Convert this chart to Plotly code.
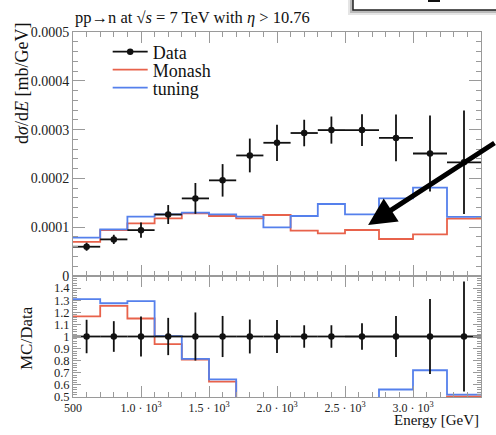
import numpy as np
import plotly.graph_objects as go

# Bin edges of the neutron energy spectrum [GeV]
bin_edges = [500, 700, 900, 1100, 1300, 1500, 1700, 1900, 2100, 2300,
             2500, 2750, 3000, 3250, 3500]

# Measured cross section dsigma/dE [mb/GeV] and its uncertainty
data_xsec = [6.0e-5, 7.5e-5, 9.4e-5, 1.26e-4, 1.59e-4, 1.96e-4, 2.47e-4,
             2.73e-4, 2.93e-4, 2.99e-4, 2.99e-4, 2.83e-4, 2.51e-4, 2.33e-4]
data_err = [0.83e-5, 0.95e-5, 1.56e-5, 1.94e-5, 3.16e-5, 3.33e-5, 3.46e-5,
            3.71e-5, 2.72e-5, 2.78e-5, 3.26e-5, 4.8e-5, 7.8e-5, 1.06e-4]

# Generator predictions
monash = [7.0e-5, 9.4e-5, 1.08e-4, 1.18e-4, 1.285e-4, 1.23e-4, 1.18e-4,
          1.25e-4, 9.3e-5, 8.75e-5, 9.43e-5, 7.58e-5, 8.54e-5, 1.175e-4]
tuning = [7.85e-5, 9.56e-5, 1.215e-4, 1.264e-4, 1.297e-4, 1.264e-4, 1.215e-4,
          9.96e-5, 1.23e-4, 1.475e-4, 1.264e-4, 1.59e-4, 1.81e-4, 1.21e-4]

# Axis tick labels
x_tick_vals = [500, 1000, 1500, 2000, 2500, 3000, 3500]
x_tick_text = ["500", "1.0 · 10<sup>3</sup>", "1.5 · 10<sup>3</sup>",
               "2.0 · 10<sup>3</sup>", "2.5 · 10<sup>3</sup>",
               "3.0 · 10<sup>3</sup>", "3.5 · 10<sup>3</sup>"]
y_tick_vals = [0, 1e-4, 2e-4, 3e-4, 4e-4, 5e-4]
y_tick_text = ["0", "0.0001", "0.0002", "0.0003", "0.0004", "0.0005"]
r_tick_vals = [0.5, 0.6, 0.7, 0.8, 0.9, 1.0, 1.1, 1.2, 1.3, 1.4]
r_tick_text = ["0.5", "0.6", "0.7", "0.8", "0.9", "1", "1.1", "1.2", "1.3", "1.4"]

FONT = "Liberation Serif"
RED = "#E8624B"
BLUE = "#5580EC"
INK = "#111111"
AXIS = "#9a9a9a"

edges = np.array(bin_edges, dtype=float)
centers = 0.5 * (edges[:-1] + edges[1:])
half_w = 0.5 * (edges[1:] - edges[:-1])
d = np.array(data_xsec)
de = np.array(data_err)
mon = np.array(monash)
tun = np.array(tuning)


def step_y(vals):
    return list(vals) + [vals[-1]]


def px_x(p):
    # horizontal pixel -> paper coordinate
    return (p - 73) / 408


def px_y(p):
    # vertical pixel -> paper coordinate
    return (397 - p) / 365


fig = go.Figure()

# ---- upper panel: cross section ----
for name, vals, col in [("Monash", mon, RED), ("tuning", tun, BLUE)]:
    fig.add_trace(go.Scatter(x=edges, y=step_y(vals), mode="lines",
                             line=dict(color=col, width=1.8, shape="hv"),
                             name=name, showlegend=False,
                             xaxis="x", yaxis="y"))

fig.add_trace(go.Scatter(
    x=centers, y=d, mode="markers",
    marker=dict(color=INK, size=6.5),
    error_x=dict(type="data", array=half_w, color=INK, thickness=1.8, width=0),
    error_y=dict(type="data", array=de, color=INK, thickness=1.8, width=0),
    showlegend=False, xaxis="x", yaxis="y"))

# legend entries, one legend box per row
fig.add_trace(go.Scatter(x=[None], y=[None], mode="lines+markers", name="Data",
                         line=dict(color=INK, width=1.8),
                         marker=dict(color=INK, size=6.5),
                         xaxis="x", yaxis="y", legend="legend"))
fig.add_trace(go.Scatter(x=[None], y=[None], mode="lines", name="Monash",
                         line=dict(color=RED, width=1.8),
                         xaxis="x", yaxis="y", legend="legend2"))
fig.add_trace(go.Scatter(x=[None], y=[None], mode="lines", name="tuning",
                         line=dict(color=BLUE, width=1.8),
                         xaxis="x", yaxis="y", legend="legend3"))

# ---- lower panel: MC / Data ----
for vals, col in [(mon, RED), (tun, BLUE)]:
    fig.add_trace(go.Scatter(x=edges, y=step_y(vals / d), mode="lines",
                             line=dict(color=col, width=1.8, shape="hv"),
                             showlegend=False, xaxis="x2", yaxis="y2"))

fig.add_trace(go.Scatter(
    x=centers, y=np.ones_like(d), mode="markers",
    marker=dict(color=INK, size=6.5),
    error_x=dict(type="data", array=half_w, color=INK, thickness=1.8, width=0),
    error_y=dict(type="data", array=de / d, color=INK, thickness=1.8, width=0),
    showlegend=False, xaxis="x2", yaxis="y2"))

split = 121 / 365

common_axis = dict(showgrid=False, zeroline=False, showline=True,
                   linecolor=AXIS, linewidth=1, mirror="allticks",
                   ticks="inside", tickcolor=AXIS, tickwidth=1,
                   tickfont=dict(family=FONT, size=14, color="#222"))


def legend_row(py):
    return dict(x=0.085, y=px_y(py), xanchor="left", yanchor="middle",
                bgcolor="rgba(0,0,0,0)", itemwidth=35,
                font=dict(family=FONT, size=18, color="#111"))


fig.update_layout(
    width=496, height=435,
    margin=dict(l=73, r=15, t=32, b=38),
    paper_bgcolor="white", plot_bgcolor="white",
    font=dict(family=FONT, color="#222"),
    xaxis=dict(common_axis, range=[500, 3500], anchor="y",
               tickmode="array", tickvals=x_tick_vals, showticklabels=False,
               ticklen=11,
               minor=dict(dtick=100, tick0=500, ticks="inside", ticklen=5,
                          tickcolor=AXIS)),
    yaxis=dict(common_axis, range=[0, 5e-4], domain=[split, 1], anchor="x",
               tickmode="array", tickvals=y_tick_vals, ticktext=y_tick_text,
               ticklen=12,
               minor=dict(dtick=2e-5, tick0=0, ticks="inside", ticklen=5,
                          tickcolor=AXIS)),
    xaxis2=dict(common_axis, range=[500, 3500], anchor="y2", matches="x",
                tickmode="array", tickvals=x_tick_vals, ticktext=x_tick_text,
                ticklen=11, tickfont=dict(family=FONT, size=12, color="#222"),
                minor=dict(dtick=100, tick0=500, ticks="inside", ticklen=5,
                           tickcolor=AXIS)),
    yaxis2=dict(common_axis, range=[0.5, 1.5], domain=[0, split], anchor="x2",
                tickmode="array", tickvals=r_tick_vals, ticktext=r_tick_text,
                ticklen=8, tickfont=dict(family=FONT, size=12.5, color="#222"),
                minor=dict(dtick=0.02, tick0=0.5, ticks="inside", ticklen=4,
                           tickcolor=AXIS)),
    legend=legend_row(52),
    legend2=legend_row(70),
    legend3=legend_row(88),
    showlegend=True,
)

annotations = [
    dict(text="pp→n at √<i>s</i> = 7 TeV with <i>η</i> > 10.76",
         xref="paper", yref="paper", x=0, y=1, xanchor="left",
         yanchor="bottom", yshift=3, showarrow=False,
         font=dict(family=FONT, size=16.5, color="#111")),
    dict(text="d<i>σ</i>/d<i>E</i> [mb/GeV]", textangle=-90,
         xref="paper", yref="paper", x=px_x(22), y=px_y(84),
         xanchor="center", yanchor="middle", showarrow=False,
         font=dict(family=FONT, size=18, color="#111")),
    dict(text="MC/Data", textangle=-90,
         xref="paper", yref="paper", x=px_x(26), y=px_y(338),
         xanchor="center", yanchor="middle", showarrow=False,
         font=dict(family=FONT, size=17, color="#111")),
    dict(text="Energy [GeV]", xref="paper", yref="paper", x=1,
         y=px_y(420), xanchor="right", yanchor="middle",
         showarrow=False, font=dict(family=FONT, size=15, color="#111")),
    # pointer arrow onto the model curves, entering from the right edge
    dict(text="", x=2670, y=1.045e-4, xref="x", yref="y",
         showarrow=True, arrowhead=2, arrowsize=1.1, arrowwidth=5,
         arrowcolor="black", ax=130, ay=-83, standoff=0),
]
fig.update_layout(annotations=annotations)

# framed box in the upper right with its drop shadow
shapes = [
    dict(type="rect", xref="paper", yref="paper",
         x0=px_x(348), x1=px_x(520), y0=px_y(15), y1=px_y(-20),
         fillcolor="rgba(0,0,0,0.10)", line=dict(width=0)),
    dict(type="rect", xref="paper", yref="paper",
         x0=px_x(350), x1=px_x(520), y0=px_y(13), y1=px_y(-20),
         fillcolor="rgba(0,0,0,0.18)", line=dict(width=0)),
    dict(type="rect", xref="paper", yref="paper",
         x0=px_x(353), x1=px_x(520), y0=px_y(10), y1=px_y(-20),
         fillcolor="white", line=dict(color="#222", width=1.5)),
    dict(type="rect", xref="paper", yref="paper",
         x0=px_x(428), x1=px_x(440), y0=px_y(2), y1=px_y(-6),
         fillcolor="#111", line=dict(width=0)),
]
fig.update_layout(shapes=shapes)

fig.write_html("out.html")
